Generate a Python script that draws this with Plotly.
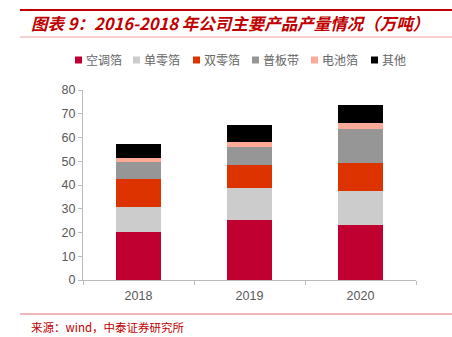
import plotly.graph_objects as go

years = ["2018", "2019", "2020"]
series_names = ["空调箔", "单零箔", "双零箔", "普板带", "电池箔", "其他"]
kongtiao = [20.3, 25.3, 23.0]
danling = [10.6, 13.6, 14.3]
shuangling = [11.5, 9.5, 12.1]
puban = [7.1, 7.7, 14.2]
dianchi = [1.9, 1.9, 2.5]
qita = [5.7, 7.3, 7.4]
series_values = [kongtiao, danling, shuangling, puban, dianchi, qita]
colors = ["#C00030", "#CCCCCC", "#DD3300", "#969696", "#FFAA99", "#000000"]
yticks = [0, 10, 20, 30, 40, 50, 60, 70, 80]

W, H = 452, 337
L, R, T, B = 83, 416, 90, 280

def px(x):
    return (x - L) / (R - L)

def py(y):
    return (B - y) / (B - T)

fig = go.Figure()
for name, vals, c in zip(series_names, series_values, colors):
    fig.add_trace(go.Bar(x=years, y=vals, name=name, marker_color=c,
                         marker_line_width=0, width=0.4))

cjk = "Noto Sans CJK SC"
fig.update_layout(
    width=W, height=H, barmode="stack",
    margin=dict(l=L, r=W - R, t=T, b=H - B),
    paper_bgcolor="white", plot_bgcolor="white",
    showlegend=False,
    xaxis=dict(showline=True, linecolor="#BBBBBB", linewidth=1, ticks="outside",
               tickcolor="#BBBBBB", ticklen=4, showgrid=False, ticklabelstandoff=4,
               tickfont=dict(family="Liberation Sans, Arial", size=12.5, color="#595959"),
               tickson="boundaries"),
    yaxis=dict(range=[0, 80], tickvals=yticks, showline=True, linecolor="#BBBBBB",
               linewidth=1, ticks="outside", tickcolor="#BBBBBB", ticklen=4,
               showgrid=False, zeroline=False,
               tickfont=dict(family="Liberation Sans, Arial", size=12.5, color="#595959")),
)

# legend (built from series names and colours)
leg_x = [75, 133, 193, 252, 311, 371]
leg_y = 60
for name, c, lx in zip(series_names, colors, leg_x):
    fig.add_shape(type="rect", xref="paper", yref="paper",
                  x0=px(lx), x1=px(lx + 7), y0=py(leg_y - 3.5), y1=py(leg_y + 3.5),
                  fillcolor=c, line=dict(width=0))
    fig.add_annotation(xref="paper", yref="paper", x=px(lx + 9), y=py(leg_y),
                       xanchor="left", yanchor="middle", showarrow=False, text=name,
                       font=dict(family=cjk, size=12, color="#666666"))

# top red rule
fig.add_shape(type="line", xref="paper", yref="paper", x0=px(20), x1=px(452),
              y0=py(10), y1=py(10), line=dict(color="#C00000", width=2))
# under-title rule
fig.add_shape(type="line", xref="paper", yref="paper", x0=px(20), x1=px(452),
              y0=py(37), y1=py(37), line=dict(color="#F0A0A0", width=1))
# footer rule
fig.add_shape(type="line", xref="paper", yref="paper", x0=px(20), x1=px(452),
              y0=py(314), y1=py(314), line=dict(color="#E07070", width=1))

fig.add_annotation(xref="paper", yref="paper", x=px(29), y=py(23), xanchor="left",
                   yanchor="middle", showarrow=False,
                   text="<b><i>图表 9：2016-2018 年公司主要产品产量情况（万吨）</i></b>",
                   font=dict(family=cjk, size=16.5, color="#C00000"))
fig.add_annotation(xref="paper", yref="paper", x=px(29), y=py(327), xanchor="left",
                   yanchor="middle", showarrow=False,
                   text="来源：wind，中泰证券研究所",
                   font=dict(family=cjk, size=11.5, color="#C00000"))

fig.write_html("out.html")
